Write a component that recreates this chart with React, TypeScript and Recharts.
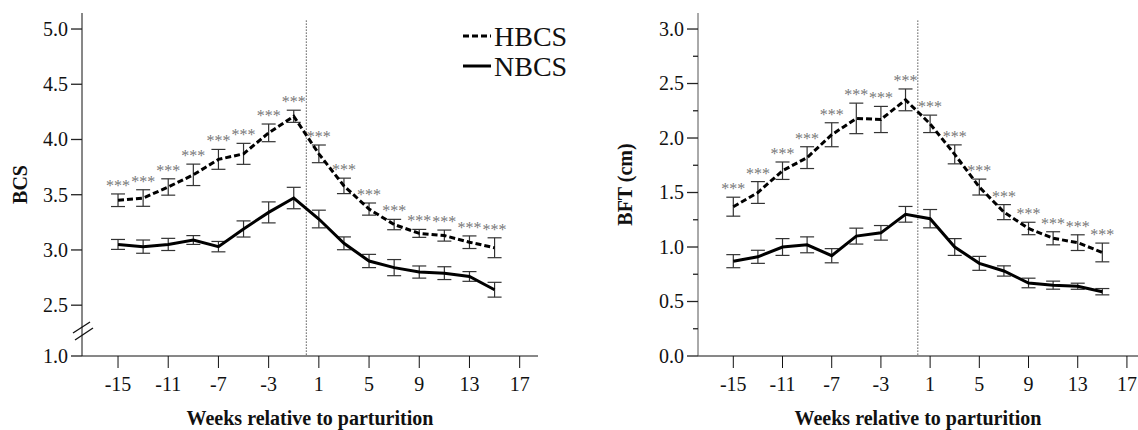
import React from 'react'
import { LineChart, Line, XAxis, YAxis, ErrorBar, LabelList, ReferenceLine } from 'recharts'

const weeks = [-15, -13, -11, -9, -7, -5, -3, -1, 1, 3, 5, 7, 9, 11, 13, 15]
const xTicks = [-15, -11, -7, -3, 1, 5, 9, 13, 17]
const stars = ['***', '***', '***', '***', '***', '***', '***', '***', '***', '***', '***', '***', '***', '***', '***', '***']
const seriesNames = ['HBCS', 'NBCS']

// body condition score
const bcsHigh = [3.45, 3.47, 3.57, 3.68, 3.82, 3.87, 4.06, 4.21, 3.87, 3.58, 3.37, 3.23, 3.15, 3.13, 3.07, 3.02]
const bcsHighSe = [0.057, 0.075, 0.074, 0.097, 0.09, 0.095, 0.08, 0.055, 0.08, 0.07, 0.055, 0.047, 0.036, 0.05, 0.057, 0.09]
const bcsNormal = [3.05, 3.03, 3.05, 3.09, 3.03, 3.19, 3.34, 3.47, 3.28, 3.06, 2.9, 2.84, 2.8, 2.79, 2.76, 2.64]
const bcsNormalSe = [0.045, 0.06, 0.055, 0.04, 0.047, 0.073, 0.095, 0.097, 0.08, 0.058, 0.06, 0.073, 0.055, 0.058, 0.044, 0.067]
const bcsTicks = [2.04, 2.5, 3.0, 3.5, 4.0, 4.5, 5.0]
const bcsBreak = 2.04 // drawn as "1.0" below the axis break

// backfat thickness (cm)
const bftHigh = [1.37, 1.5, 1.7, 1.82, 2.03, 2.18, 2.17, 2.35, 2.13, 1.85, 1.55, 1.32, 1.17, 1.08, 1.04, 0.95]
const bftHighSe = [0.087, 0.1, 0.08, 0.1, 0.11, 0.14, 0.12, 0.1, 0.08, 0.087, 0.073, 0.069, 0.057, 0.06, 0.072, 0.086]
const bftNormal = [0.87, 0.91, 1.0, 1.02, 0.92, 1.1, 1.13, 1.3, 1.26, 1.0, 0.85, 0.78, 0.67, 0.65, 0.64, 0.59]
const bftNormalSe = [0.06, 0.06, 0.077, 0.073, 0.065, 0.073, 0.067, 0.072, 0.084, 0.077, 0.064, 0.047, 0.044, 0.037, 0.028, 0.029]
const bftTicks = [0, 0.25, 0.5, 0.75, 1.0, 1.25, 1.5, 1.75, 2.0, 2.25, 2.5, 2.75, 3.0]

const FONT = "'Liberation Serif', 'DejaVu Serif', serif"
const serif = { fontFamily: FONT }

const buildRows = (high: number[], highSe: number[], normal: number[], normalSe: number[]) =>
  weeks.map((week, i) => ({
    week,
    high: high[i],
    highSe: highSe[i],
    highTop: high[i] + highSe[i],
    normal: normal[i],
    normalSe: normalSe[i],
    sig: stars[i]
  }))

interface PanelProps {
  left: number
  width: number
  rows: ReturnType<typeof buildRows>
  yDomain: [number, number]
  yTicks: number[]
  yAxisWidth: number
  marginRight: number
  xDomain: [number, number]
  yLabel: string
  yLabelGap: number
  refTop: number
  breakAt?: number
  yAxisColor: string
  children?: React.ReactNode
}

function Panel({
  left,
  width,
  rows,
  yDomain,
  yTicks,
  yAxisWidth,
  marginRight,
  xDomain,
  yLabel,
  yLabelGap,
  refTop,
  breakAt,
  yAxisColor,
  children
}: PanelProps) {
  const YTick = (props: any) => {
    const { x, y, payload } = props
    const v = payload.value
    const major = Math.abs(v * 2 - Math.round(v * 2)) < 1e-6 || v === breakAt
    const len = major ? 11 : 5
    return (
      <g>
        <line x1={x - len} x2={x} y1={y} y2={y} stroke="#222" strokeWidth={1.3} />
        {major && (
          <text x={x - len - 3} y={y} dy="0.34em" textAnchor="end" fontSize={20} fill="#111" style={serif}>
            {v === breakAt ? '1.0' : v.toFixed(1)}
          </text>
        )}
        {v === breakAt && (
          <g stroke="#111" strokeWidth={1.3}>
            <line x1={x - 9} y1={y - 23} x2={x + 8} y2={y - 34} />
            <line x1={x - 7} y1={y - 16} x2={x + 11} y2={y - 28} />
          </g>
        )}
      </g>
    )
  }

  const XTick = (props: any) => {
    const { x, y, payload } = props
    return (
      <text x={x} y={y} dy="0.71em" textAnchor="middle" fontSize={20} fill="#111" style={serif}>
        {payload.value}
      </text>
    )
  }

  const Stars = (props: any) => {
    const { x, y, value } = props
    return (
      <text x={x} y={y - 3} textAnchor="middle" fontSize={16} fill="#777" style={serif}>
        {value}
      </text>
    )
  }

  return (
    <div style={{ position: 'absolute', left, top: 0, width, height: 430, ...serif }}>
      <LineChart
        width={width}
        height={430}
        data={rows}
        margin={{ top: 13, right: marginRight, bottom: 0, left: 0 }}
        style={serif}
      >
        <XAxis
          type="number"
          dataKey="week"
          domain={xDomain}
          ticks={xTicks}
          allowDataOverflow
          interval={0}
          height={74}
          tickSize={12}
          tickMargin={9}
          stroke="#111"
          tick={<XTick />}
          label={{
            content: (p: any) => {
              const vb = p.viewBox
              return (
                <text
                  x={vb.x + vb.width / 2}
                  y={vb.y + 69}
                  textAnchor="middle"
                  fontSize={20}
                  fontWeight="bold"
                  fill="#111"
                  style={serif}
                >
                  Weeks relative to parturition
                </text>
              )
            }
          }}
        />
        <YAxis
          type="number"
          domain={yDomain}
          ticks={yTicks}
          allowDataOverflow
          interval={0}
          width={yAxisWidth}
          tickSize={0}
          tickMargin={0}
          tickLine={false}
          stroke={yAxisColor}
          tick={<YTick />}
          label={{
            content: (p: any) => {
              const vb = p.viewBox
              const cx = vb.x + vb.width - yLabelGap
              const cy = vb.y + vb.height / 2
              return (
                <text
                  x={cx}
                  y={cy}
                  dy="0.34em"
                  transform={`rotate(-90, ${cx}, ${cy})`}
                  textAnchor="middle"
                  fontSize={20}
                  fontWeight="bold"
                  fill="#111"
                  style={serif}
                >
                  {yLabel}
                </text>
              )
            }
          }}
        />
        <ReferenceLine
          segment={[
            { x: 0, y: refTop },
            { x: 0, y: yDomain[0] }
          ]}
          stroke="#555"
          strokeWidth={1}
          strokeDasharray="1.5 1.5"
          ifOverflow="visible"
        />
        <Line dataKey="highTop" stroke="none" dot={false} activeDot={false} isAnimationActive={false}>
          <LabelList dataKey="sig" content={<Stars />} />
        </Line>
        <Line
          type="linear"
          dataKey="normal"
          name={seriesNames[1]}
          stroke="#000"
          strokeWidth={3}
          dot={false}
          activeDot={false}
          isAnimationActive={false}
        >
          <ErrorBar dataKey="normalSe" width={7} stroke="#333" strokeWidth={1.2} direction="y" />
        </Line>
        <Line
          type="linear"
          dataKey="high"
          name={seriesNames[0]}
          stroke="#000"
          strokeWidth={3}
          strokeDasharray="6 3"
          dot={false}
          activeDot={false}
          isAnimationActive={false}
        >
          <ErrorBar dataKey="highSe" width={7} stroke="#333" strokeWidth={1.2} direction="y" />
        </Line>
      </LineChart>
      {children}
    </div>
  )
}

function SeriesLegend() {
  return (
    <svg style={{ position: 'absolute', left: 460, top: 18 }} width={120} height={66}>
      {seriesNames.map((name, i) => (
        <g key={name}>
          <line
            x1={3}
            x2={31}
            y1={18 + i * 30}
            y2={18 + i * 30}
            stroke="#000"
            strokeWidth={3}
            strokeDasharray={i === 0 ? '6 3' : undefined}
          />
          <text x={34} y={28 + i * 30} fontSize={28} fill="#111" style={serif}>
            {name}
          </text>
        </g>
      ))}
    </svg>
  )
}

export default function App() {
  const bcsRows = buildRows(bcsHigh, bcsHighSe, bcsNormal, bcsNormalSe)
  const bftRows = buildRows(bftHigh, bftHighSe, bftNormal, bftNormalSe)

  return (
    <div
      style={{
        position: 'absolute',
        left: 0,
        top: 0,
        width: 1138,
        height: 430,
        background: '#fff',
        overflow: 'hidden',
        ...serif
      }}
    >
      <Panel
        left={0}
        width={560}
        rows={bcsRows}
        yDomain={[bcsBreak, 5.145]}
        yTicks={bcsTicks}
        yAxisWidth={82}
        marginRight={22}
        xDomain={[-17.87, 18.46]}
        yLabel="BCS"
        yLabelGap={62}
        refTop={5.078}
        breakAt={bcsBreak}
        yAxisColor="#111"
      >
        <SeriesLegend />
      </Panel>
      <Panel
        left={560}
        width={578}
        rows={bftRows}
        yDomain={[0, 3.147]}
        yTicks={bftTicks}
        yAxisWidth={138}
        marginRight={0}
        xDomain={[-17.87, 17.9]}
        yLabel="BFT (cm)"
        yLabelGap={73}
        refTop={3.079}
        yAxisColor="#555"
      />
    </div>
  )
}
